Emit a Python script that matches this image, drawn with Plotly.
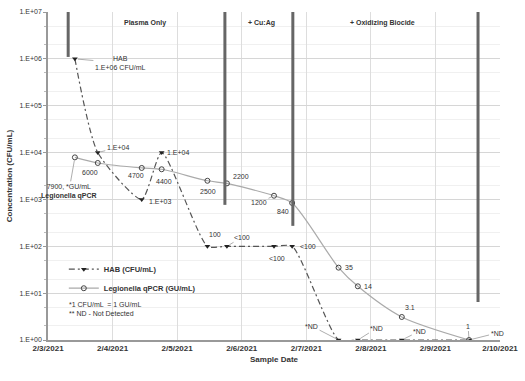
import math
import plotly.graph_objects as go

# ---------------- data ----------------
sample_times = [
    "2021-02-03 10:00", "2021-02-03 18:30", "2021-02-04 10:50", "2021-02-04 18:15",
    "2021-02-05 11:15", "2021-02-05 18:30", "2021-02-06 12:00", "2021-02-06 18:45",
    "2021-02-07 12:00", "2021-02-07 19:10", "2021-02-08 11:30", "2021-02-09 12:30",
]
hab_values = [1e6, 1e4, 1e3, 1e4, 100, 100, 100, 100, 1, 1, 1, 1]
hab_labels = ["HAB<br>1.E+06 CFU/mL", "1.E+04", "1.E+03", "1.E+04", "100", "<100",
              "<100", "<100", "*ND", "*ND", "*ND", "*ND"]
leg_values = [7900, 6000, 4700, 4400, 2500, 2200, 1200, 840, 35, 14, 3.1, 1]
leg_labels = ["7900, *GU/mL<br><b>Legionella qPCR</b>", "6000", "4700", "4400", "2500",
              "2200", "1200", "840", "35", "14", "3.1", "1"]

phase_names = ["Plasma Only", "+ Cu:Ag", "+ Oxidizing Biocide"]
phase_label_x = ["2021-02-04 12:00", "2021-02-06 07:30", "2021-02-08 04:30"]
phase_bar_x = ["2021-02-03 07:30", "2021-02-05 17:45", "2021-02-06 19:00", "2021-02-09 15:50"]

y_tickvals = [1, 10, 100, 1e3, 1e4, 1e5, 1e6, 1e7]
y_ticktext = ["1.E+00", "1.E+01", "1.E+02", "1.E+03", "1.E+04", "1.E+05", "1.E+06", "1.E+07"]

FONT = "Liberation Sans Narrow, Liberation Sans, Arial, sans-serif"
TXT = "#333333"

# label offsets (pixels, screen: +x right, +y down) relative to each point; flag = leader line
hab_off = [(45, 4, True), (20, -5, True), (18, 2, False), (16, 0, False), (8, -12, False),
           (15, -9, True), (3, 12, False), (16, 0, False), (-27, -14, True), (19, -12, True),
           (18, -9, True), (28, -7, True)]
leg_off = [(-6, 34, True), (-8, 10, False), (-6, 8, False), (2, 12, False), (1, 11, False),
           (14, -7, False), (-15, 7, True), (-9, 9, False), (10, 0, False), (10, 0, False),
           (8, -9, False), (-1, -14, True)]

fig = go.Figure()
fig.add_trace(go.Scatter(
    x=sample_times, y=hab_values, name="<b>HAB (CFU/mL)</b>",
    mode="lines+markers",
    line=dict(color="#555555", width=1.2, dash="6px,3px,2px,3px", shape="spline", smoothing=0.6),
    marker=dict(symbol="triangle-down", size=5, color="#222222"),
))
fig.add_trace(go.Scatter(
    x=sample_times, y=leg_values, name="<b>Legionella qPCR (GU/mL)</b>",
    mode="lines+markers",
    line=dict(color="#aaaaaa", width=1.2, shape="spline", smoothing=0.8),
    marker=dict(symbol="circle-open", size=5, color="#444444", line=dict(width=1)),
))


def label(t, v, lab, off):
    ax, ay, arr = off
    d = dict(x=t, y=math.log10(v), xref="x", yref="y", text=lab,
             font=dict(size=7, color=TXT, family=FONT))
    if arr:
        d.update(showarrow=True, arrowhead=0, arrowwidth=0.8, arrowcolor="#999999",
                 ax=ax, ay=ay, standoff=3)
    else:
        d.update(showarrow=False, xshift=ax, yshift=-ay)
    return d


annotations = []
for t, v, lab, off in zip(sample_times, hab_values, hab_labels, hab_off):
    annotations.append(label(t, v, lab, off))
for t, v, lab, off in zip(sample_times, leg_values, leg_labels, leg_off):
    annotations.append(label(t, v, lab, off))
for name, xv in zip(phase_names, phase_label_x):
    annotations.append(dict(x=xv, y=0.985, xref="x", yref="y domain", text="<b>" + name + "</b>",
                            showarrow=False, font=dict(size=7, color=TXT, family=FONT)))
annotations.append(dict(x=0.042, y=0.125, xref="paper", yref="paper", xanchor="left", yanchor="top",
                        align="left", showarrow=False,
                        text="*1 CFU/mL  = 1 GU/mL<br>** ND - Not Detected",
                        font=dict(size=7, color=TXT, family=FONT)))

bar_bottoms = [0.863, 0.412, 0.348, 0.116]
shapes = []
for xv, yb in zip(phase_bar_x, bar_bottoms):
    shapes.append(dict(type="line", xref="x", yref="y domain", x0=xv, x1=xv, y0=yb, y1=1,
                       line=dict(color="#666666", width=3)))

fig.update_layout(
    width=525, height=381,
    margin=dict(l=48, r=25, t=12, b=41),
    paper_bgcolor="white", plot_bgcolor="white",
    font=dict(family=FONT, size=8, color=TXT),
    showlegend=True,
    legend=dict(x=0.035, y=0.26, xanchor="left", yanchor="top", bgcolor="rgba(0,0,0,0)",
                font=dict(size=7.5, color=TXT, family=FONT), itemwidth=30),
    annotations=annotations, shapes=shapes,
    xaxis=dict(
        type="date", range=["2021-02-03", "2021-02-10"], dtick=86400000,
        tickformat="<b>%-m/%-d/%Y</b>", tickfont=dict(size=8, color=TXT, family=FONT),
        showgrid=True, gridcolor="#dddddd", gridwidth=1,
        showline=True, linecolor="#999999", linewidth=1.5, mirror=False,
        ticks="", automargin=False,
        title=dict(text="<b>Sample Date</b>", font=dict(size=8, family=FONT), standoff=4),
    ),
    yaxis=dict(
        type="log", range=[0, 7], tickvals=y_tickvals, ticktext=y_ticktext,
        tickfont=dict(size=7, color=TXT, family=FONT),
        showgrid=True, gridcolor="#d6d6d6", gridwidth=1,
        minor=dict(showgrid=True, gridcolor="#f0f0f0", ticks="outside", ticklen=2, tickcolor="#bbbbbb"),
        showline=True, linecolor="#999999", linewidth=1.5,
        ticks="outside", ticklen=3, tickcolor="#999999", automargin=False,
        title=dict(text="<b>Concentration (CFU/mL)</b>", font=dict(size=8, family=FONT), standoff=6),
    ),
)

fig.write_html("out.html", config={"displayModeBar": False},
               post_script="document.body.style.margin='0px';")
